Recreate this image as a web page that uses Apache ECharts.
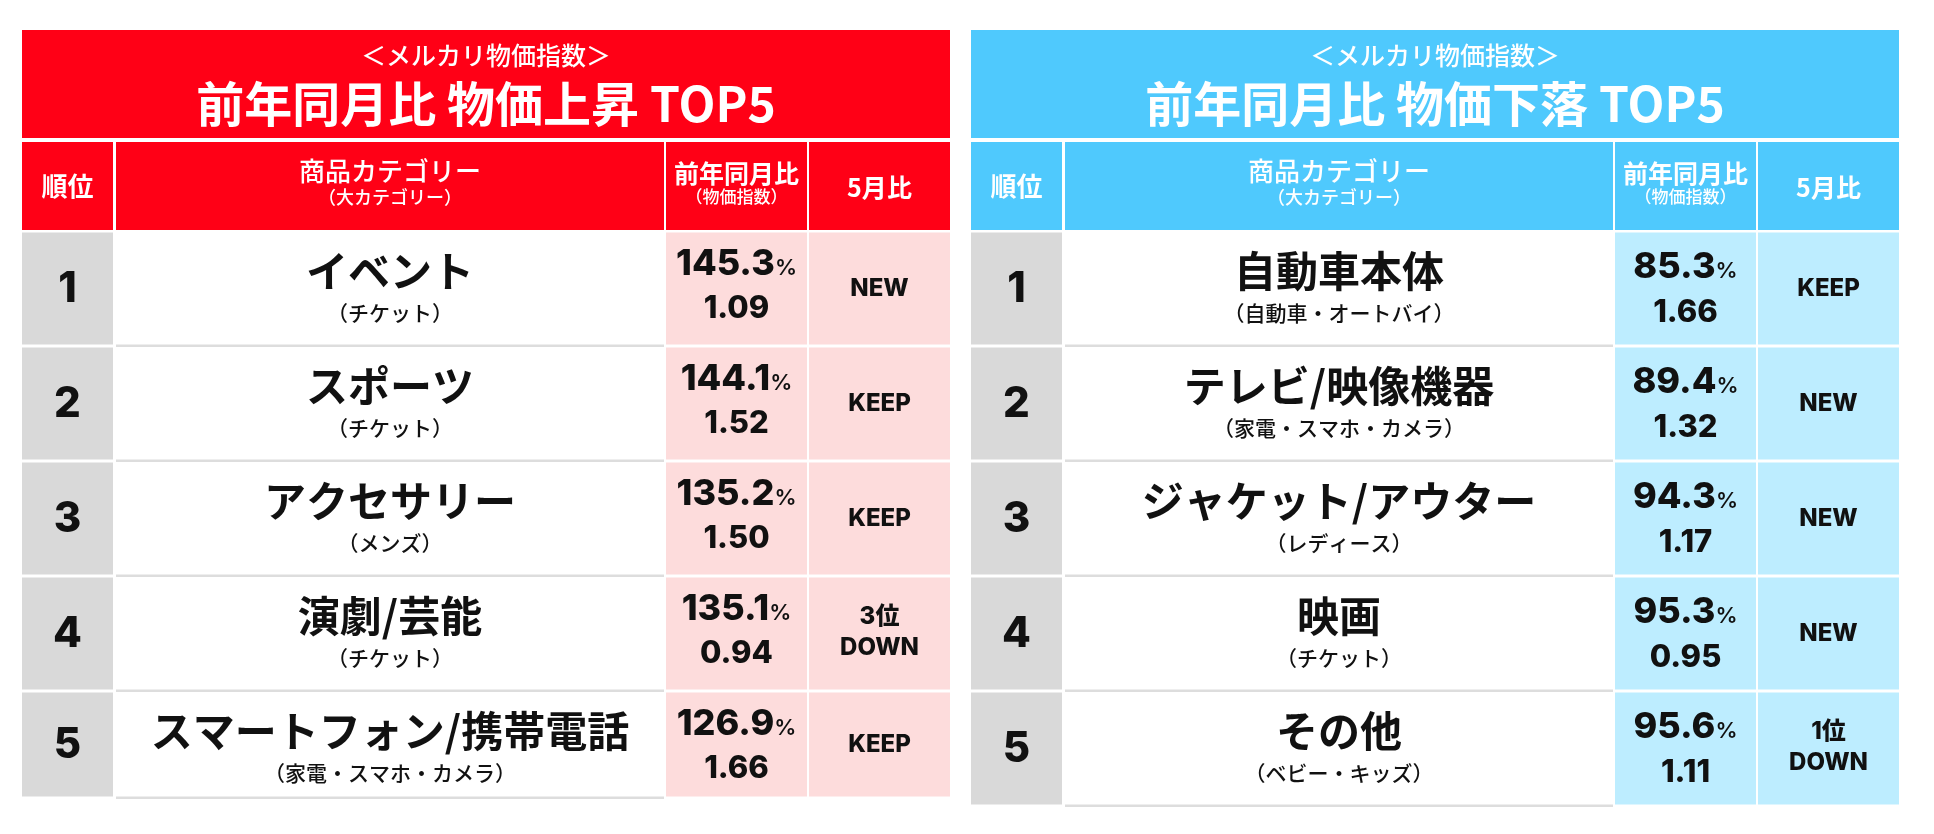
<!DOCTYPE html>
<html>
<head>
<meta charset="utf-8">
<script src="https://cdn.jsdelivr.net/npm/echarts@6/dist/echarts.min.js"></script>
<style>
html, body { margin: 0; background: #fff; }
#chart { width: 1934px; height: 834px; }
</style>
</head>
<body>
<div id="chart"></div>
<script>
// data
const ranks = [1, 2, 3, 4, 5];
const upNames = ['イベント', 'スポーツ', 'アクセサリー', '演劇/芸能', 'スマートフォン/携帯電話'];
const upGroups = ['（チケット）', '（チケット）', '（メンズ）', '（チケット）', '（家電・スマホ・カメラ）'];
const upYoY = [145.3, 144.1, 135.2, 135.1, 126.9];
const upIndex = [1.09, 1.52, 1.50, 0.94, 1.66];
const upMay = ['NEW', 'KEEP', 'KEEP', '3位\nDOWN', 'KEEP'];

const downNames = ['自動車本体', 'テレビ/映像機器', 'ジャケット/アウター', '映画', 'その他'];
const downGroups = ['（自動車・オートバイ）', '（家電・スマホ・カメラ）', '（レディース）', '（チケット）', '（ベビー・キッズ）'];
const downYoY = [85.3, 89.4, 94.3, 95.3, 95.6];
const downIndex = [1.66, 1.32, 1.17, 0.95, 1.11];
const downMay = ['KEEP', 'NEW', 'NEW', 'NEW', '1位\nDOWN'];

const subTitle = '＜メルカリ物価指数＞';
const upTitle = '前年同月比 物価上昇 TOP5';
const downTitle = '前年同月比 物価下落 TOP5';
const headLabels = ['順位', '商品カテゴリー', '（大カテゴリー）', '前年同月比', '（物価指数）', '5月比'];

// layout (table units = px inside each grid)
const JP = '"Noto Sans CJK JP", sans-serif';
const NUM = 'Inter, "Noto Sans CJK JP", sans-serif';
const COLS = [[0, 91], [94, 642], [644, 785], [787, 928]];
const ROW_TOP = 202.5, ROW_STEP = 115, ROW_H = 112;

function helpers(api) {
    const p = (x, y) => api.coord([x, y]);
    const box = (x0, y0, x1, y1, fill) => {
        const a = p(x0, y0), b = p(x1, y1);
        return { type: 'rect', shape: { x: a[0], y: a[1], width: b[0] - a[0], height: b[1] - a[1] }, style: { fill: fill } };
    };
    const txt = (x, y, text, font, fill, extra) => {
        const a = p(x, y);
        return { type: 'text', style: Object.assign({ text: text, x: a[0], y: a[1], font: font, fill: fill, align: 'center', verticalAlign: 'middle' }, extra || {}) };
    };
    return { box, txt };
}

function headerSeries(idx, title, color) {
    return {
        type: 'custom', xAxisIndex: idx, yAxisIndex: idx, silent: true,
        data: [[0]],
        renderItem: function (params, api) {
            const h = helpers(api);
            const mid = c => (COLS[c][0] + COLS[c][1]) / 2;
            const center = (COLS[0][0] + COLS[3][1]) / 2;
            return {
                type: 'group',
                children: [
                    h.box(COLS[0][0], 0, COLS[3][1], 108, color),
                    h.txt(center, 25, subTitle, '500 25px ' + JP, '#fff'),
                    h.txt(center, 74, title, 'bold 48px ' + JP, '#fff'),
                    h.box(COLS[0][0], 112, COLS[0][1], 200, color),
                    h.box(COLS[1][0], 112, COLS[1][1], 200, color),
                    h.box(COLS[2][0], 112, COLS[2][1], 200, color),
                    h.box(COLS[3][0], 112, COLS[3][1], 200, color),
                    h.txt(mid(0), 156, headLabels[0], 'bold 26px ' + JP, '#fff'),
                    h.txt(mid(1), 141, headLabels[1], '500 26px ' + JP, '#fff'),
                    h.txt(mid(1), 167, headLabels[2], '500 18px ' + JP, '#fff'),
                    h.txt(mid(2), 143, headLabels[3], 'bold 25px ' + JP, '#fff'),
                    h.txt(mid(2), 167, headLabels[4], '500 17px ' + JP, '#fff'),
                    h.txt(mid(3), 157, headLabels[5], 'bold 25px ' + JP, '#fff')
                ]
            };
        }
    };
}

function rowSeries(idx, names, groups, yoy, index, may, cellColor, lastH, dy) {
    return {
        type: 'custom', xAxisIndex: idx, yAxisIndex: idx, silent: true,
        data: ranks.map((r, i) => [i, yoy[i], index[i]]),
        renderItem: function (params, api) {
            const h = helpers(api);
            const i = api.value(0);
            const top = ROW_TOP + i * ROW_STEP;
            const rh = i === ranks.length - 1 ? lastH : ROW_H;
            const mid = c => (COLS[c][0] + COLS[c][1]) / 2;
            const mayText = may[i];
            const two = mayText.indexOf('\n') >= 0;
            return {
                type: 'group',
                children: [
                    h.box(COLS[0][0], top, COLS[0][1], top + rh, '#d9d9d9'),
                    h.box(COLS[1][0], top, COLS[1][1], top + rh, '#ffffff'),
                    h.box(COLS[1][0], top + rh, COLS[1][1], top + rh + 2.5, '#dddddd'),
                    h.box(COLS[2][0], top, COLS[2][1], top + rh, cellColor),
                    h.box(COLS[3][0], top, COLS[3][1], top + rh, cellColor),
                    h.txt(mid(0), top + rh / 2 + 1, String(ranks[i]), '800 42px ' + NUM, '#111'),
                    h.txt(mid(1), top + 39, names[i], 'bold 42px ' + JP, '#111'),
                    h.txt(mid(1), top + 81, groups[i], '500 21px ' + JP, '#111'),
                    h.txt(mid(2), top + 32 + dy, '{v|' + api.value(1).toFixed(1) + '}{p|%}', '', '#111', {
                        rich: {
                            v: { font: '800 36px ' + NUM, fill: '#111' },
                            p: { font: '600 22px ' + NUM, fill: '#111', padding: [7, 0, 0, 0] }
                        }
                    }),
                    h.txt(mid(2), top + 76 + dy * 1.5, api.value(2).toFixed(2), '800 31px ' + NUM, '#111'),
                    h.txt(mid(3), top + (two ? 55 : rh / 2), mayText, '800 24px ' + NUM, '#111', { lineHeight: 31 })
                ]
            };
        }
    };
}

const chart = echarts.init(document.getElementById('chart'));
const option = {
    backgroundColor: '#fff',
    animation: false,
    grid: [
        { left: 22, top: 30, width: 928, height: 774 },
        { left: 971, top: 30, width: 928, height: 774 }
    ],
    xAxis: [
        { type: 'value', gridIndex: 0, min: 0, max: 928, show: false },
        { type: 'value', gridIndex: 1, min: 0, max: 928, show: false }
    ],
    yAxis: [
        { type: 'value', gridIndex: 0, min: 0, max: 774, inverse: true, show: false },
        { type: 'value', gridIndex: 1, min: 0, max: 774, inverse: true, show: false }
    ],
    series: [
        headerSeries(0, upTitle, '#ff0016'),
        rowSeries(0, upNames, upGroups, upYoY, upIndex, upMay, '#fddcdc', 104, 0),
        headerSeries(1, downTitle, '#4fc9fd'),
        rowSeries(1, downNames, downGroups, downYoY, downIndex, downMay, '#bdedff', 112, 3)
    ]
};
chart.setOption(option);
window.addEventListener('resize', () => {
    chart.resize();
});
</script>
</body>
</html>
